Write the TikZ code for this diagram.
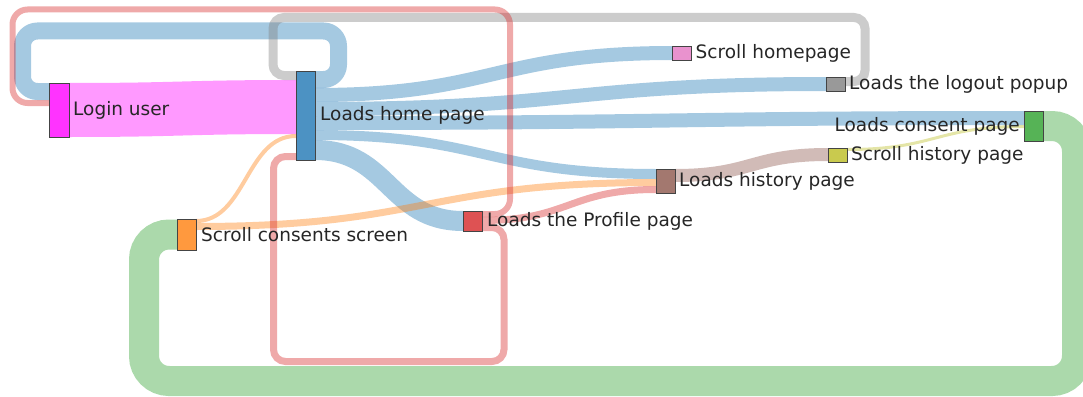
\documentclass[tikz,border=0pt]{standalone}
\usepackage{fontspec}
\setmainfont{DejaVu Sans}
\usetikzlibrary{calc}

\definecolor{cLogin}{HTML}{FF00FF}
\definecolor{cHome}{HTML}{1F77B4}
\definecolor{cScrollHome}{HTML}{E377C2}
\definecolor{cLogout}{HTML}{7F7F7F}
\definecolor{cConsent}{HTML}{2CA02C}
\definecolor{cScrollHist}{HTML}{BCBD22}
\definecolor{cHistory}{HTML}{8C564B}
\definecolor{cProfile}{HTML}{D62728}
\definecolor{cScrollCons}{HTML}{FF7F0E}
\definecolor{labeltext}{HTML}{262626}
\definecolor{nodeline}{HTML}{444444}

\pgfdeclarelayer{flows}
\pgfsetlayers{flows,main}

\tikzset{
  pagebox/.style={draw=nodeline, line width=0.6pt, inner sep=0pt, outer sep=0pt,
    minimum width=19pt, fill=#1!80!white},
  flow/.style={line width=#1, draw opacity=0.4},
  lbl/.style={text=labeltext, inner sep=0pt, font=\fontsize{18.5}{21}\selectfont},
}

\begin{document}
\begin{tikzpicture}[x=1pt,y=-1pt]
\useasboundingbox (0,0) rectangle (1083,396);
\clip (0,0) rectangle (1083,396);

% pages of the user journey
\node[pagebox=cLogin, minimum width=20pt, minimum height=54pt] (login) at (59,110) {};
\node[pagebox=cHome, minimum height=89pt] (home) at (305.5,115.5) {};
\node[pagebox=cScrollHome, minimum height=14pt] (scrollhome) at (682,53) {};
\node[pagebox=cLogout, minimum height=14pt] (logout) at (835.5,84) {};
\node[pagebox=cConsent, minimum height=30pt] (consent) at (1033.5,126) {};
\node[pagebox=cScrollHist, minimum height=14pt] (scrollhist) at (837.5,155) {};
\node[pagebox=cHistory, minimum height=24pt] (history) at (665.5,181) {};
\node[pagebox=cProfile, minimum height=20pt] (profile) at (472.5,221) {};
\node[pagebox=cScrollCons, minimum height=31pt] (scrollcons) at (186.5,234.5) {};

\begin{pgfonlayer}{flows}
% forward flows
\draw[flow=54, cLogin] ($(login.north east)+(0,27)$) .. controls +(113.5,0) and +(-113.5,0) .. ($(home.north west)+(0,36)$);
\draw[flow=14, cHome] ($(home.north east)+(0,24)$) .. controls +(178,0) and +(-178,0) .. (scrollhome.west);
\draw[flow=14, cHome] ($(home.north east)+(0,38)$) .. controls +(255,0) and +(-255,0) .. (logout.west);
\draw[flow=14, cHome] ($(home.north east)+(0,52)$) .. controls +(354,0) and +(-354,0) .. ($(consent.north west)+(0,7)$);
\draw[flow=10, cHome] ($(home.north east)+(0,64)$) .. controls +(170,0) and +(-170,0) .. ($(history.north west)+(0,5)$);
\draw[flow=20, cHome] ($(home.north east)+(0,79)$) .. controls +(74,0) and +(-74,0) .. (profile.west);
\draw[flow=4, cScrollCons] ($(scrollcons.north east)+(0,2)$) .. controls +(50,0) and +(-50,0) .. ($(home.north west)+(0,65)$);
\draw[flow=7, cScrollCons] ($(scrollcons.north east)+(0,7.5)$) .. controls +(230,0) and +(-230,0) .. ($(history.north west)+(0,13.5)$);
\draw[flow=7, cProfile] ($(profile.north east)+(0,9.5)$) .. controls +(87,0) and +(-87,0) .. ($(history.north west)+(0,20.5)$);
\draw[flow=13, cHistory] ($(history.north east)+(0,6.5)$) .. controls +(76.5,0) and +(-76.5,0) .. ($(scrollhist.north west)+(0,6.5)$);
\draw[flow=3, cScrollHist] ($(scrollhist.north east)+(0,1.5)$) .. controls +(88.5,0) and +(-88.5,0) .. ($(consent.north west)+(0,15.5)$);

% return flows looping back
\draw[flow=17, cHome, rounded corners=15pt] ($(home.north east)+(0,8.5)$) -- (338.5,79.5) -- (338.5,31) -- (22.5,31) -- (22.5,91.5) -- ($(login.north west)+(0,8.5)$);
\draw[flow=9, cLogout, rounded corners=11pt] ($(logout.north east)+(0,4.5)$) -- (865,81.5) -- (865,17.5) -- (273,17.5) -- (273,75.5) -- ($(home.north west)+(0,4.5)$);
\draw[flow=6, cProfile, rounded corners=15pt] ($(profile.north east)+(0,3)$) -- (510,214) -- (510,9.5) -- (12.5,9.5) -- (12.5,103) -- ($(login.north west)+(0,20)$);
\draw[flow=7, cProfile, rounded corners=12pt] ($(profile.north east)+(0,16.5)$) -- (504,227.5) -- (504,361.5) -- (273.5,361.5) -- (273.5,156.5) -- ($(home.south west)+(0,-3.5)$);
\draw[flow=30, cConsent, rounded corners=25pt] (consent.east) -- (1077,126) -- (1077,381) -- (144,381) -- (144,234.5) -- (scrollcons.west);
\end{pgfonlayer}

% page names
\node[lbl, anchor=west] (tlogin) at ([xshift=4pt]login.east) {Login user};
\node[lbl, anchor=west] (thome) at ([xshift=5pt]home.east) {Loads home page};
\node[lbl, anchor=west] (tscrollhome) at ([xshift=4pt]scrollhome.east) {Scroll homepage};
\node[lbl, anchor=west] (tlogout) at ([xshift=4pt]logout.east) {Loads the logout popup};
\node[lbl, anchor=east] (tconsent) at ([xshift=-4pt]consent.west) {Loads consent page};
\node[lbl, anchor=west] (tscrollhist) at ([xshift=4pt]scrollhist.east) {Scroll history page};
\node[lbl, anchor=west] (thistory) at ([xshift=4pt]history.east) {Loads history page};
\node[lbl, anchor=west] (tprofile) at ([xshift=5pt]profile.east) {Loads the Profile page};
\node[lbl, anchor=west] (tscrollcons) at ([xshift=5pt]scrollcons.east) {Scroll consents screen};
\end{tikzpicture}
\end{document}
